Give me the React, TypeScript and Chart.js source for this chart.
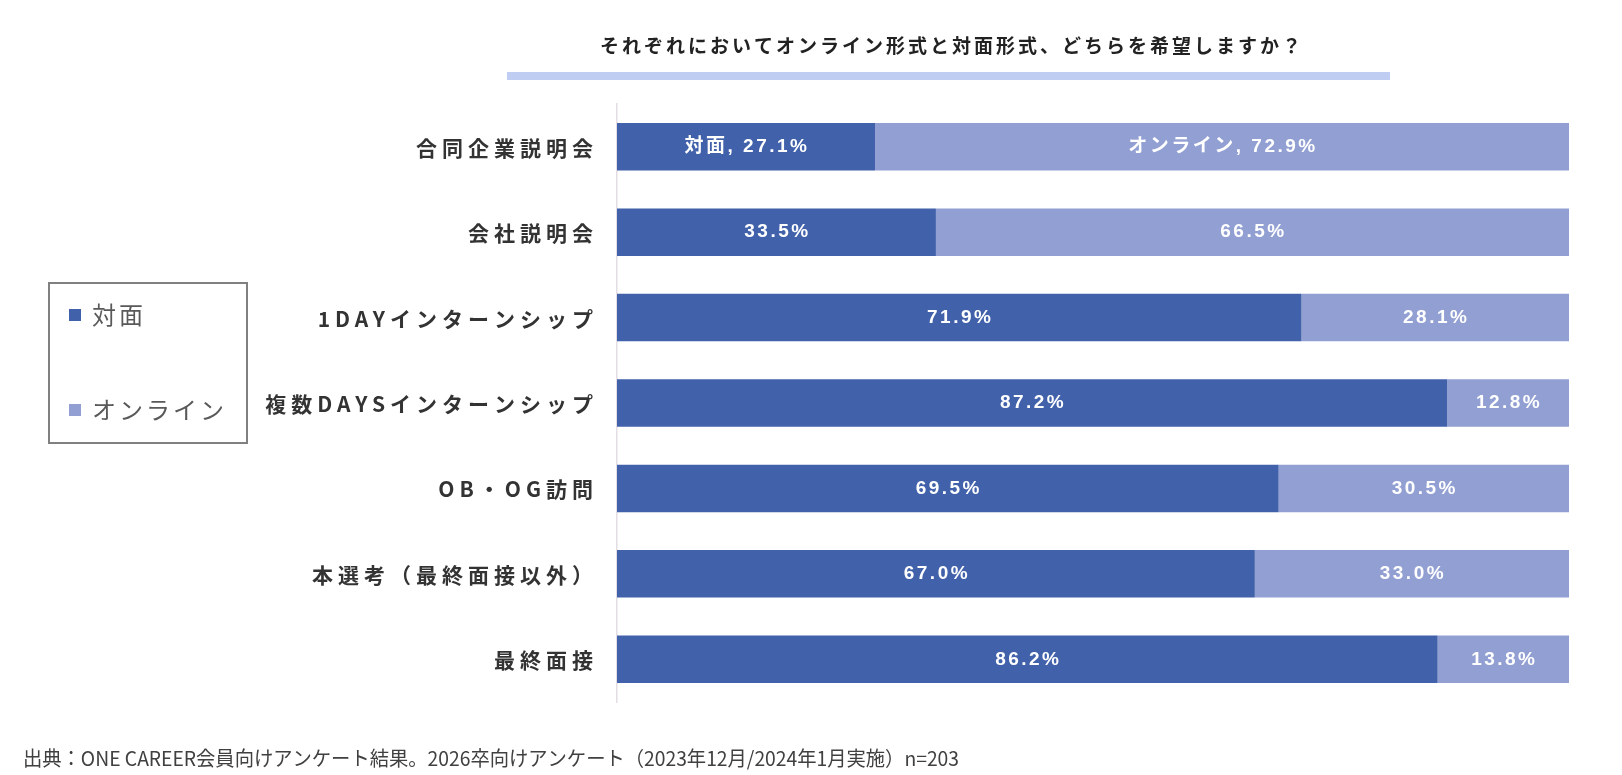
import React, { useEffect, useRef } from "react";
import { Chart, registerables } from "chart.js";

Chart.register(...registerables);

const titleText = "それぞれにおいてオンライン形式と対面形式、どちらを希望しますか？";
const sourceText = "出典：ONE CAREER会員向けアンケート結果。2026卒向けアンケート（2023年12月/2024年1月実施）n=203";
const categories = [
  "合同企業説明会",
  "会社説明会",
  "1DAYインターンシップ",
  "複数DAYSインターンシップ",
  "OB・OG訪問",
  "本選考（最終面接以外）",
  "最終面接",
];
const seriesNames = ["対面", "オンライン"];
const taimenValues = [27.1, 33.5, 71.9, 87.2, 69.5, 67.0, 86.2];
const onlineValues = [72.9, 66.5, 28.1, 12.8, 30.5, 33.0, 13.8];
const seriesColors = ["#4161aa", "#919fd2"];

const JP = '"Noto Sans CJK JP", "Noto Sans", sans-serif';
const MIX = '"Liberation Sans", "Noto Sans CJK JP", sans-serif';

const overlayPlugin = {
  id: "overlay",
  afterDatasetsDraw(chart: any) {
    const ctx = chart.ctx as CanvasRenderingContext2D;
    ctx.save();
    ctx.fillStyle = "#ffffff";
    ctx.font = `bold 19px ${MIX}`;
    (ctx as any).letterSpacing = "2.5px";
    ctx.textAlign = "center";
    ctx.textBaseline = "middle";
    chart.data.datasets.forEach((ds: any, di: number) => {
      const meta = chart.getDatasetMeta(di);
      meta.data.forEach((bar: any, i: number) => {
        const v = ds.data[i] as number;
        const txt = (i === 0 ? ds.label + ", " : "") + v.toFixed(1) + "%";
        const cx = (bar.x + bar.base) / 2;
        ctx.fillText(txt, cx + 1, bar.y);
      });
    });
    ctx.restore();
  },
  afterDraw(chart: any) {
    const ctx = chart.ctx as CanvasRenderingContext2D;
    const yScale = chart.scales.y;
    ctx.save();
    // title
    ctx.fillStyle = "#222222";
    ctx.font = `bold 19px ${JP}`;
    (ctx as any).letterSpacing = "3px";
    ctx.textAlign = "center";
    ctx.textBaseline = "middle";
    ctx.fillText(titleText, 952, 46);
    // title underline
    ctx.fillStyle = "#bfcdf3";
    ctx.fillRect(507, 72, 883, 8);

    // category labels
    ctx.fillStyle = "#333333";
    ctx.font = `bold 21px ${JP}`;
    (ctx as any).letterSpacing = "5px";
    ctx.textAlign = "right";
    categories.forEach((c, i) => {
      ctx.fillText(c, 598, yScale.getPixelForValue(i) + 1);
    });

    // legend box
    (ctx as any).letterSpacing = "3px";
    ctx.strokeStyle = "#808080";
    ctx.lineWidth = 2;
    ctx.strokeRect(49, 283, 198, 160);
    ctx.font = `24px ${JP}`;
    ctx.textAlign = "left";
    const legendY = [315, 410];
    chart.data.datasets.forEach((ds: any, di: number) => {
      ctx.fillStyle = ds.backgroundColor;
      ctx.fillRect(69, legendY[di] - 6, 12, 12);
      ctx.fillStyle = "#595959";
      ctx.fillText(ds.label, 92, legendY[di]);
    });

    // source
    (ctx as any).letterSpacing = "0px";
    ctx.fillStyle = "#404040";
    ctx.font = `20px ${JP}`;
    ctx.textAlign = "left";
    ctx.fillText(sourceText, 23, 758, 936);
    ctx.restore();
  },
};

export default function App() {
  const ref = useRef<HTMLCanvasElement | null>(null);
  useEffect(() => {
    if (!ref.current) return;
    const chart = new Chart(ref.current, {
      type: "bar",
      data: {
        labels: categories,
        datasets: [
          {
            label: seriesNames[0],
            data: taimenValues,
            backgroundColor: seriesColors[0],
            borderWidth: 0,
            barPercentage: 0.556,
            categoryPercentage: 1,
          },
          {
            label: seriesNames[1],
            data: onlineValues,
            backgroundColor: seriesColors[1],
            borderWidth: 0,
            barPercentage: 0.556,
            categoryPercentage: 1,
          },
        ],
      },
      options: {
        indexAxis: "y",
        animation: false,
        responsive: false,
        maintainAspectRatio: false,
        layout: { padding: { top: 104, bottom: 73, right: 53, left: 0 } },
        plugins: {
          legend: { display: false },
          title: { display: false },
          tooltip: { enabled: false },
        },
        scales: {
          x: {
            stacked: true,
            min: 0,
            max: 100,
            display: false,
          },
          y: {
            stacked: true,
            grid: { display: false, drawTicks: false },
            border: { display: true, color: "#e4dee4", width: 1.5 },
            ticks: { display: false },
            afterFit: (axis: any) => {
              axis.width = 617;
            },
          },
        },
      },
      plugins: [overlayPlugin],
    });
    return () => chart.destroy();
  }, []);
  return (
    <div style={{ position: "absolute", left: 0, top: 0, width: 1622, height: 775, background: "#fff" }}>
      <canvas ref={ref} width={1622} height={775} style={{ width: 1622, height: 775, display: "block" }} />
    </div>
  );
}
